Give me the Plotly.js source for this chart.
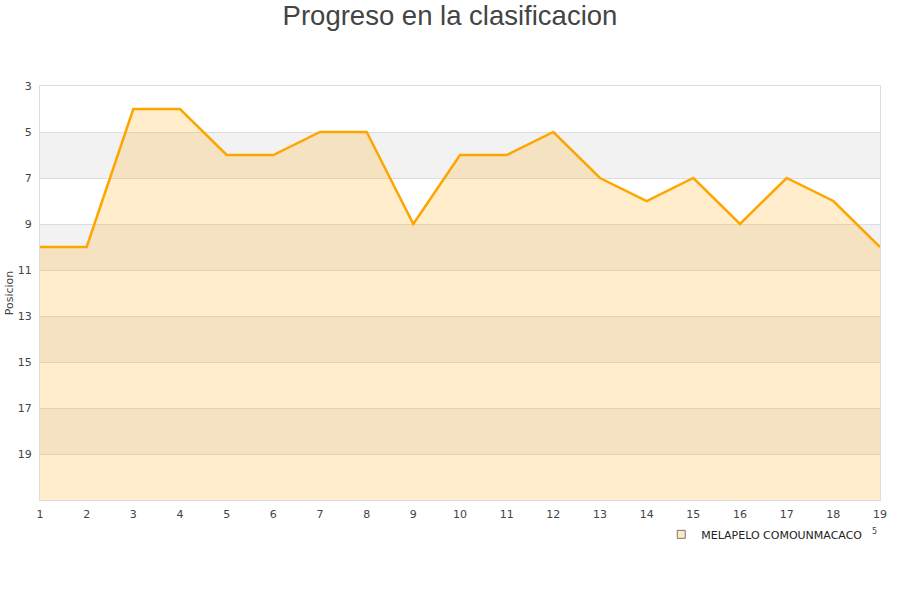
<!DOCTYPE html>
<html><head><meta charset="utf-8">
<script src="https://cdn.plot.ly/plotly-3.0.1.min.js"></script>
<style>html,body{margin:0;padding:0;background:#fff}#chart{width:900px;height:600px}</style>
</head><body><div id="chart"></div>
<script>
const jornadas = [1,2,3,4,5,6,7,8,9,10,11,12,13,14,15,16,17,18,19];
const posiciones = [10,10,4,4,6,6,5,5,9,6,6,5,7,8,7,9,7,8,10];
const equipo = "MELAPELO COMOUNMACACO";
const yTicks = [3,5,7,9,11,13,15,17,19];
const bands = [[5,7],[9,11],[13,15],[17,19]];
const yBottom = 21;

const shapes = bands.map(b => ({type:'rect', xref:'paper', yref:'y', x0:0, x1:1, y0:b[0], y1:b[1],
  fillcolor:'#f2f2f2', line:{width:0}, layer:'below'}));

const traces = [
  {x:jornadas, y:jornadas.map(()=>yBottom), mode:'lines', line:{width:0}, showlegend:false, hoverinfo:'skip'},
  {x:jornadas, y:posiciones, mode:'lines', fill:'tonexty', fillcolor:'rgba(255,165,0,0.2)',
   line:{color:'#ffa500', width:2.5}, showlegend:false, name:equipo},
  {x:[null], y:[null], mode:'markers', name:equipo,
   marker:{symbol:'square', size:8, color:'#fde9c4', line:{color:'#777', width:1}}}
];

const layout = {
  width:900, height:600,
  margin:{l:40, r:20, t:86, b:100},
  paper_bgcolor:'#fff', plot_bgcolor:'#fff',
  font:{family:'DejaVu Sans, sans-serif', size:11, color:'#444'},
  title:{text:'Progreso en la clasificacion', x:0.5, xanchor:'center', y:0.975, yanchor:'middle',
    font:{family:'Liberation Sans, Arial, sans-serif', size:27.5, color:'#444'}},
  xaxis:{range:[1,19], tickvals:jornadas, showgrid:false, zeroline:false,
    showline:true, linecolor:'#ddd', mirror:true, ticks:'', ticklabelstandoff:4, tickfont:{size:11, color:'#444'}},
  yaxis:{range:[yBottom,3], tickvals:yTicks, showgrid:true, gridcolor:'#dddddd', zeroline:false,
    showline:true, linecolor:'#ddd', mirror:true, ticks:'', ticklabelstandoff:5, tickfont:{size:11, color:'#444'},
    title:{text:'Posicion', font:{size:11, color:'#444'}, standoff:1}},
  shapes:shapes,
  showlegend:true,
  legend:{orientation:'h', x:0.986, xanchor:'right', y:-0.048, yanchor:'top',
    font:{size:11, color:'#222'}, bgcolor:'rgba(0,0,0,0)'},
  annotations:[{text:'5', xref:'paper', yref:'paper', x:0.994, y:-0.077, xanchor:'center', yanchor:'middle', showarrow:false,
    font:{size:8, color:'#444'}}]
};
Plotly.newPlot('chart', traces, layout, {displayModeBar:false});
</script></body></html>
